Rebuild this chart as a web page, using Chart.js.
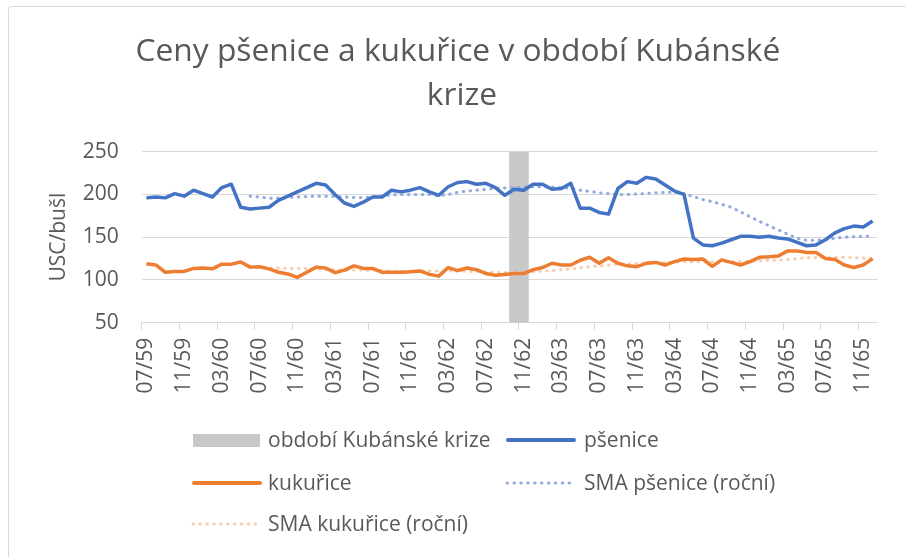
<!DOCTYPE html>
<html>
<head>
<meta charset="utf-8">
<script src="https://cdn.jsdelivr.net/npm/chart.js@4"></script>
<style>
  body { margin: 0; background: #fff; }
  #wrap { position: relative; width: 906px; height: 557px; overflow: hidden;
          font-family: 'Open Sans', sans-serif; color: #595959; }
  #frame { position: absolute; left: 8px; top: 6px; width: 920px; height: 580px;
           border: 1px solid #d9d9d9; border-radius: 3px; }
  #title { position: absolute; left: 0; width: 924px; top: 27px; text-align: center;
           font-size: 32px; line-height: 44px; white-space: pre; }
  canvas { position: absolute; left: 0; top: 0; }
  .lg { position: absolute; font-size: 21px; line-height: 21px; white-space: nowrap; }
  .mk { position: absolute; }
</style>
</head>
<body>
<div id="wrap">
  <div id="frame"></div>
  <canvas id="chart" width="906" height="557"></canvas>
  <div id="title"><span id="t1">Ceny pšenice a kukuřice v období Kubánské </span>
<span>krize</span></div>

  <div class="mk" style="left:193px;top:434px;width:67px;height:13px;background:#c8c8c8"></div>
  <div class="lg" style="left:268px;top:429px">období Kubánské krize</div>
  <svg class="mk" style="left:190px;top:475px" width="74" height="16"><line x1="4" y1="8" x2="70" y2="8" stroke="#ed7d31" stroke-width="4" stroke-linecap="round"/></svg>
  <div class="lg" style="left:268px;top:472px">kukuřice</div>
  <svg class="mk" style="left:190px;top:516px" width="74" height="16"><line x1="3" y1="8" x2="71" y2="8" stroke="#f8cbad" stroke-width="3" stroke-linecap="round" stroke-dasharray="0.5 6.4"/></svg>
  <div class="lg" style="left:268px;top:513px">SMA kukuřice (roční)</div>

  <svg class="mk" style="left:504px;top:432px" width="74" height="16"><line x1="4" y1="8" x2="70" y2="8" stroke="#4472c4" stroke-width="4" stroke-linecap="round"/></svg>
  <div class="lg" style="left:584px;top:429px">pšenice</div>
  <svg class="mk" style="left:504px;top:475px" width="74" height="16"><line x1="3" y1="8" x2="71" y2="8" stroke="#8faadc" stroke-width="3" stroke-linecap="round" stroke-dasharray="0.5 6.4"/></svg>
  <div class="lg" style="left:584px;top:472px">SMA pšenice (roční)</div>
</div>
<script>
const categories = [
  '07/59','08/59','09/59','10/59','11/59','12/59',
  '01/60','02/60','03/60','04/60','05/60','06/60','07/60','08/60','09/60','10/60','11/60','12/60',
  '01/61','02/61','03/61','04/61','05/61','06/61','07/61','08/61','09/61','10/61','11/61','12/61',
  '01/62','02/62','03/62','04/62','05/62','06/62','07/62','08/62','09/62','10/62','11/62','12/62',
  '01/63','02/63','03/63','04/63','05/63','06/63','07/63','08/63','09/63','10/63','11/63','12/63',
  '01/64','02/64','03/64','04/64','05/64','06/64','07/64','08/64','09/64','10/64','11/64','12/64',
  '01/65','02/65','03/65','04/65','05/65','06/65','07/65','08/65','09/65','10/65','11/65','12/65'
];

// USC/bušl
const wheat = [
  196, 197, 196, 201, 198, 205, 201, 197, 208, 212, 185, 183,
  184, 185, 193, 198, 203, 208, 213, 211, 200, 190, 186, 191,
  197, 197, 205, 203, 205, 208, 203, 199, 209, 214, 215, 212,
  213, 208, 199, 206, 205, 212, 212, 206, 207, 213, 184, 184,
  179, 177, 207, 215, 213, 220, 218, 211, 204, 200, 149, 141,
  140, 143, 147, 151, 151, 150, 151, 149, 148, 144, 140, 141,
  147, 155, 160, 163, 162, 169
];
const corn = [
  119, 117.5, 109, 110, 110, 113.5, 114, 113, 118.5, 118.5, 121, 115,
  115.5, 113, 109, 107, 103, 109, 115, 114, 108.5, 111.5, 116.5, 113.5,
  113.5, 109, 109, 109, 109.5, 110.5, 106.5, 104.5, 114.5, 111, 114, 112,
  107.5, 105.5, 106.5, 107.5, 107.5, 112, 114.5, 119.5, 117.5, 117.5, 123, 126.5,
  119.5, 126, 119.5, 116.5, 115.5, 119.5, 120.5, 117.5, 121.5, 124.5, 124, 124.5,
  116, 123.5, 120.5, 117.5, 121.5, 126.5, 127, 128, 134, 134, 132, 132,
  125, 124, 117.5, 114.5, 117.5, 125
];
// roční klouzavý průměr (od 06/60)
const wheatSma = [
  null, null, null, null, null, null, null, null, null, null, null,
  198, 197, 195.5, 196, 196.5, 197, 197.5, 198, 198, 197.5,
  197, 196.5, 196.5, 197, 198, 199.5, 200, 200, 200, 200,
  198.5, 200, 202.5, 204, 205, 206, 207, 207.5, 208, 208.5,
  209, 209, 208.5, 208, 207, 205, 203.5, 202, 201, 200,
  200, 200.5, 201, 202, 202.5, 202.5, 201, 197.5, 194, 191.5,
  188.5, 185, 179.5, 174, 168.5, 163.5, 158.5, 153.5, 148.5, 146.5,
  146.5, 147.5, 148.5, 150, 150.5, 151, 151.5
];
const cornSma = [
  null, null, null, null, null, null, null, null, null, null, null,
  115, 114.8, 114.3, 114, 113.5, 113.3, 113.3, 113, 112.3, 112,
  111.5, 111.5, 111.5, 111.3, 111, 110, 109.8, 110, 110.4, 110.4,
  110.4, 110.5, 110.4, 110, 109.6, 109.2, 108.8, 108.8, 108.8, 109,
  109.5, 110.3, 111, 112, 113, 114.3, 115.5, 116.3, 117.3, 118.3,
  118.8, 119.2, 119.5, 120, 120.5, 121, 121.3, 121.3, 121.3, 121.3,
  121.3, 121.3, 121.5, 122, 122.5, 123, 123.3, 124, 125, 126,
  126.4, 126.4, 126.4, 126.3, 126, 125.6, 125.2
];
const crisisMonths = ['10/62', '11/62'];
const crisisTop = 250;
const yTicks = [50, 100, 150, 200, 250];

// first title line should be about 649px wide, like in the original
const t1 = document.getElementById('t1');
const title = document.getElementById('title');
title.style.fontSize = (32 * 653 / t1.getBoundingClientRect().width).toFixed(2) + 'px';

const crisis = categories.map(c => crisisMonths.includes(c) ? crisisTop : null);
const txt = '#595959';
const gridCol = '#d9d9d9';
const tickFont = { family: 'Open Sans', size: 21 };

new Chart(document.getElementById('chart'), {
  data: {
    labels: categories,
    datasets: [
      { type: 'line', label: 'pšenice', data: wheat, borderColor: '#4472c4', borderWidth: 3.5,
        pointRadius: 0, tension: 0, borderJoinStyle: 'round', order: 1 },
      { type: 'line', label: 'kukuřice', data: corn, borderColor: '#ed7d31', borderWidth: 3.5,
        pointRadius: 0, tension: 0, borderJoinStyle: 'round', order: 2 },
      { type: 'line', label: 'SMA pšenice (roční)', data: wheatSma, borderColor: '#8faadc', borderWidth: 3,
        borderDash: [0.5, 6.4], borderCapStyle: 'round', pointRadius: 0, tension: 0, order: 3 },
      { type: 'line', label: 'SMA kukuřice (roční)', data: cornSma, borderColor: '#f8cbad', borderWidth: 3,
        borderDash: [0.5, 6.4], borderCapStyle: 'round', pointRadius: 0, tension: 0, order: 4 },
      { type: 'bar', label: 'období Kubánské krize', data: crisis, backgroundColor: '#c8c8c8',
        barPercentage: 1, categoryPercentage: 1, order: 5 }
    ]
  },
  options: {
    responsive: false,
    animation: false,
    layout: { padding: { top: 151.7, right: 27, bottom: 0, left: 0 } },
    plugins: { legend: { display: false }, tooltip: { enabled: false } },
    scales: {
      x: {
        type: 'category',
        offset: true,
        grid: {
          offset: true, drawOnChartArea: false, tickLength: 7, lineWidth: 1,
          color: c => c.index % 4 === 0 ? gridCol : 'rgba(0,0,0,0)'
        },
        border: { color: gridCol, width: 1 },
        ticks: {
          autoSkip: false, minRotation: 90, maxRotation: 90, padding: 8,
          color: txt, font: tickFont,
          callback: (v, i) => i % 4 === 0 ? categories[i] : ''
        },
        afterFit: s => { s.height = 557 - 322.7; }
      },
      y: {
        min: yTicks[0],
        max: yTicks[yTicks.length - 1],
        ticks: { stepSize: 50, padding: 23, color: txt, font: tickFont },
        grid: { color: gridCol, lineWidth: 1, drawTicks: false },
        border: { display: false },
        title: { display: true, text: 'USC/bušl', color: txt, font: { family: 'Open Sans', size: 21 },
                 padding: { top: 46, bottom: 0 } },
        afterFit: s => { s.width = 141.7; }
      }
    }
  }
});
</script>
</body>
</html>
